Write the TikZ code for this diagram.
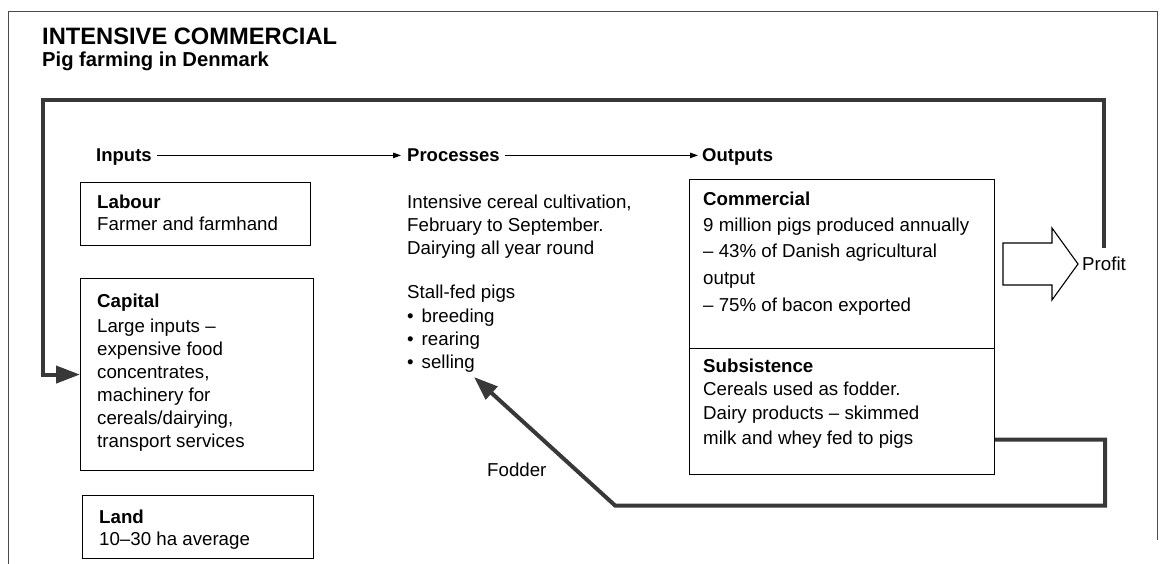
\documentclass[tikz,border=0pt]{standalone}
\usepackage{fontspec}
\setmainfont{Liberation Sans}
\usetikzlibrary{arrows.meta}
\definecolor{thickc}{gray}{0.22}
\newcommand\bodyfont[1]{\fontsize{18.7}{#1}\selectfont}
\begin{document}
\begin{tikzpicture}[x=1pt,y=-1pt,
  frame/.style={line width=1pt, draw=black!70},
  box/.style={draw, line width=1.1pt, inner sep=0pt, anchor=north west},
  boxtext/.style={anchor=north west, inner sep=0pt, align=left},
  header/.style={anchor=base west, inner sep=0pt, text height=13.2pt, text depth=0pt,
     font=\bfseries\fontsize{18.5}{22}\selectfont},
  flowarrow/.style={line width=0.9pt, -{Triangle[length=8pt,width=5.5pt]}},
  feedback/.style={line width=4pt, draw=thickc, line join=miter,
     -{Triangle[length=24pt,width=17pt,fill=thickc]}}
]
\useasboundingbox (0,0) rectangle (1160,564);
% outer frame
\draw[frame] (8,564) -- (8,12) -- (1157,12) -- (1157,540);

% title
\node[anchor=base west, inner sep=0pt, font=\bfseries\fontsize{23.7}{28}\selectfont] (title) at (42,45) {INTENSIVE COMMERCIAL};
\node[anchor=base west, inner sep=0pt, font=\bfseries\fontsize{20.2}{24}\selectfont] (subtitle) at (42,67) {Pig farming in Denmark};

% column headers
\node[header] (inputs) at (96,162) {Inputs};
\node[header] (processes) at (407,162) {Processes};
\node[header] (outputs) at (702,162) {Outputs};
\draw[flowarrow, shorten <=5pt, shorten >=6pt] (inputs.east) -- (processes.west);
\draw[flowarrow, shorten <=5pt, shorten >=4pt] (processes.east) -- (outputs.west);

% input boxes
\node[box, minimum width=230pt, minimum height=63pt] (labour) at (80,182) {};
\node[boxtext, font=\bodyfont{22}] (labourtext) at (97,194.6) {\textbf{Labour}\\Farmer and farmhand};

\node[box, minimum width=233pt, minimum height=192pt] (capital) at (80,278) {};
\node[boxtext, font=\bodyfont{23}] (capitaltext) at (97,293.6) {\textbf{Capital}\\[2pt]Large inputs --\\expensive food\\concentrates,\\machinery for\\cereals/dairying,\\transport services};

\node[box, minimum width=231pt, minimum height=63pt] (land) at (82,495) {};
\node[boxtext, font=\bodyfont{22}] (landtext) at (99,509.6) {\textbf{Land}\\10--30 ha average};

% processes
\node[boxtext, font=\bodyfont{23}] (proctext) at (407,194.6) {Intensive cereal cultivation,\\February to September.\\Dairying all year round\\[21pt]Stall-fed pigs\\[1pt]\textbullet\hspace{8pt}breeding\\\textbullet\hspace{8pt}rearing\\\textbullet\hspace{8pt}selling};

% outputs
\node[box, minimum width=305pt, minimum height=169pt] (commercial) at (689,179) {};
\node[boxtext, font=\bodyfont{26.8}] (commtext) at (703,191.6) {\textbf{Commercial}\\[-1pt]9 million pigs produced annually\\-- 43\% of Danish agricultural\\output\\-- 75\% of bacon exported};

\node[box, minimum width=305pt, minimum height=126pt] (subs) at (689,348) {};
\node[boxtext, font=\bodyfont{24.5}] (substext) at (703,358.6) {\textbf{Subsistence}\\[-1.5pt]Cereals used as fodder.\\Dairy products -- skimmed\\milk and whey fed to pigs};

% profit block arrow
\draw[line width=1.1pt, line join=miter] (1003,243) -- (1052,243) -- (1052,228) -- (1078,264) -- (1052,300) -- (1052,285) -- (1003,285) -- cycle;
\node[anchor=west, inner sep=0pt, text height=13.2pt, text depth=0pt, font=\bodyfont{22}] (profit) at (1082,264) {Profit};

% feedback loop: profit -> capital
\coordinate (looptl) at (43,100);
\draw[feedback, shorten <=9pt] (profit.north) |- (looptl) |- (capital.west);

% fodder loop: subsistence -> processes
\coordinate (fs) at ([yshift=-28pt]subs.east);
\coordinate (fodtip) at (474,377);
\draw[feedback] (fs) -- ++(110,0) -- ++(0,66) -- ++(-490,0) -- (fodtip);
\node[anchor=west, inner sep=0pt, font=\bodyfont{22}] (fodder) at (487,470) {Fodder};
\end{tikzpicture}
\end{document}
